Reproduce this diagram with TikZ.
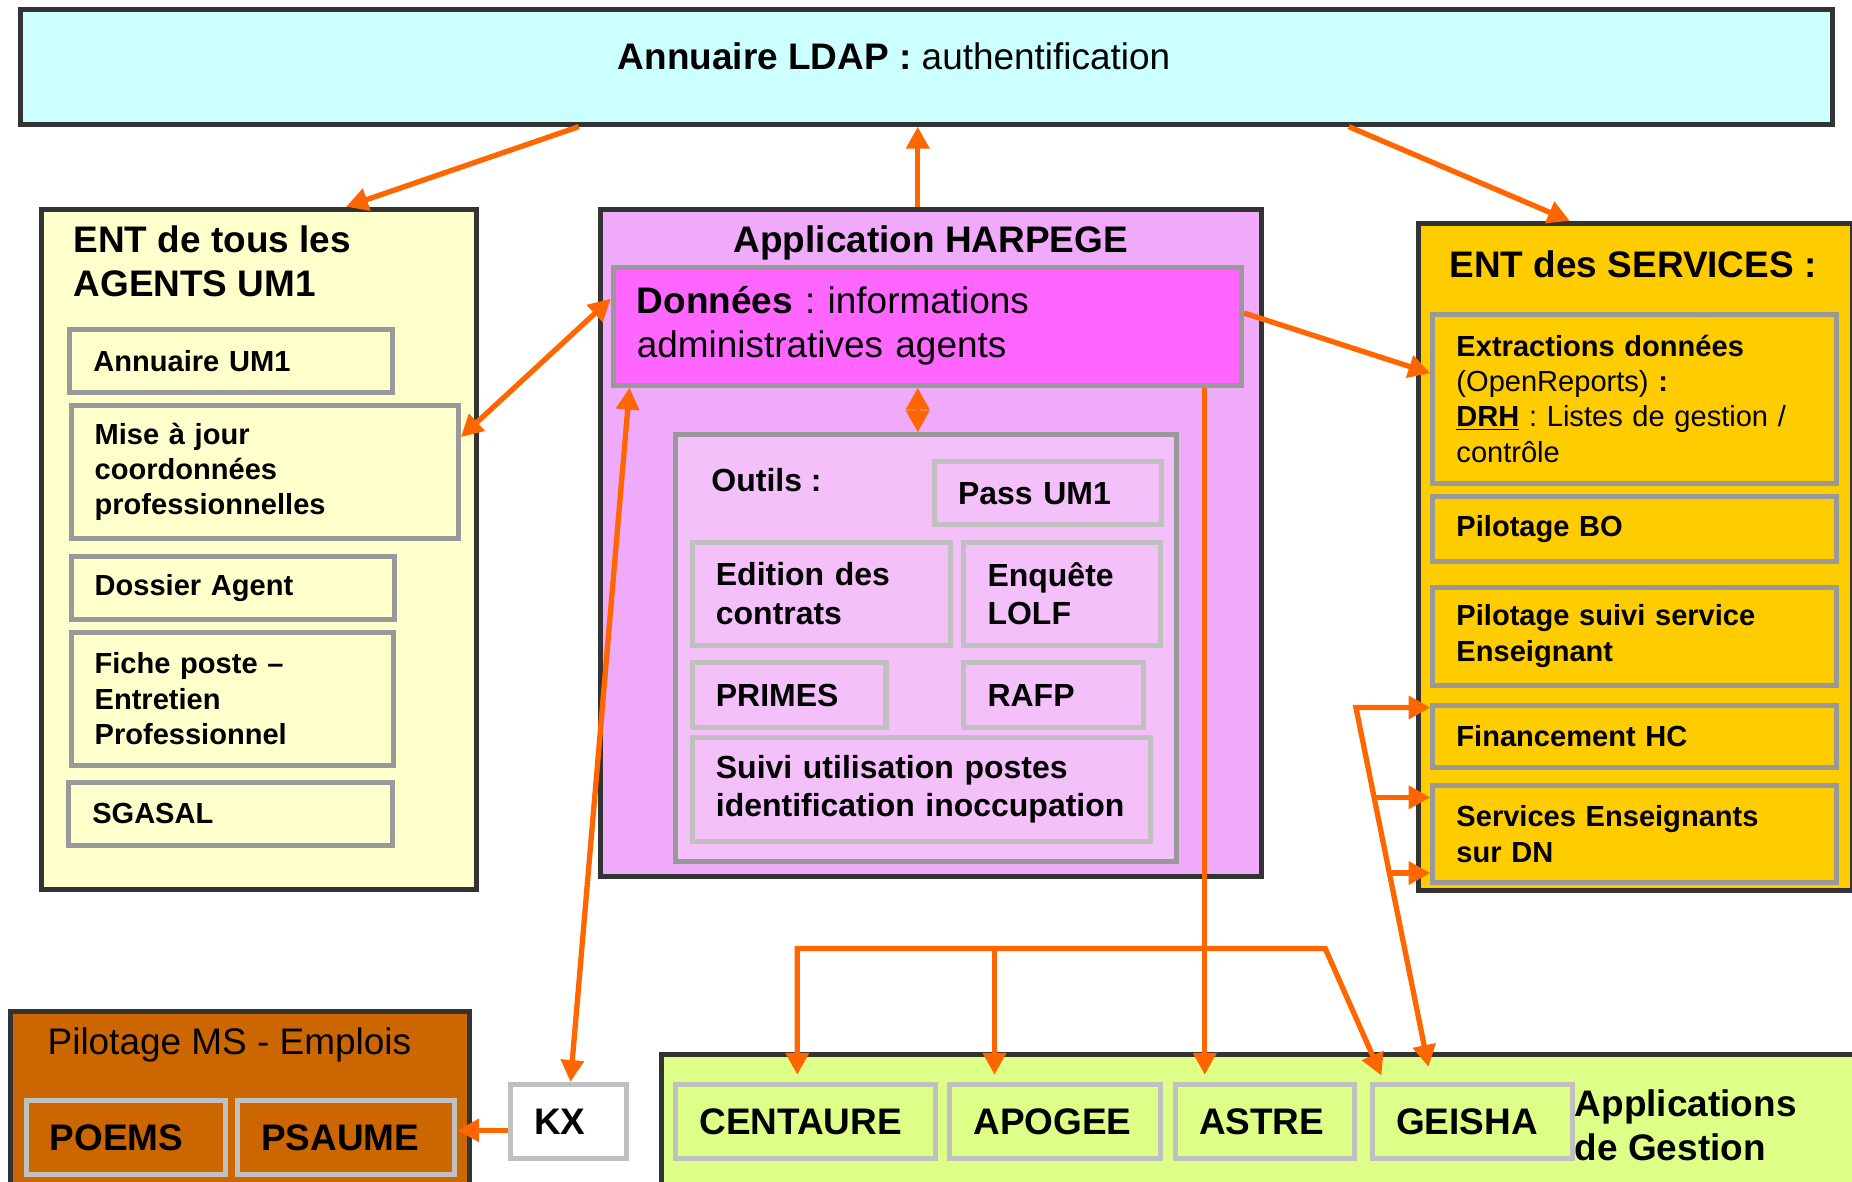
\documentclass[tikz,border=0pt]{standalone}
\usepackage{fontspec}
\setmainfont{Liberation Sans}
\usetikzlibrary{arrows.meta}
\frenchspacing

\definecolor{ldapcyan}{HTML}{CCFFFF}
\definecolor{agentyellow}{HTML}{FFFFCC}
\definecolor{harpegepink}{HTML}{F0AAFA}
\definecolor{donneesmagenta}{HTML}{FF66FF}
\definecolor{outilspink}{HTML}{F4C0FA}
\definecolor{servicegold}{HTML}{FFCC00}
\definecolor{msorange}{HTML}{CC6600}
\definecolor{appgreen}{HTML}{DDFF88}
\definecolor{floworange}{HTML}{FF6600}
\definecolor{darkframe}{HTML}{333333}
\definecolor{midframe}{HTML}{999999}
\definecolor{lightframe}{HTML}{C0C0C0}

\newcommand{\bigtxt}{\fontsize{17.8}{21.3}\selectfont}
\newcommand{\tooltxt}{\fontsize{15.4}{18.5}\selectfont}
\newcommand{\smalltxt}{\fontsize{14}{17}\selectfont}

\tikzset{
  wh/.style 2 args={minimum width=#1*0.2mm, minimum height=#2*0.2mm},
  frame/.style={rectangle, draw=darkframe, line width=0.85mm, inner sep=0pt, anchor=north west},
  sub/.style 2 args={rectangle, wh={#1}{#2}, text width=#1*0.2mm-8mm, inner xsep=4mm, inner ysep=0pt,
    align=left, anchor=north west, line width=0.85mm},
  entbox/.style 2 args={sub={#1}{#2}, draw=midframe, font=\smalltxt\bfseries},
  toolbox/.style 2 args={sub={#1}{#2}, draw=lightframe, fill=outilspink, font=\tooltxt\bfseries},
  appbox/.style 2 args={sub={#1}{#2}, draw=lightframe, font=\bigtxt\bfseries},
  heading/.style={inner sep=0pt, align=left, font=\bigtxt\bfseries},
  flow/.style={color=floworange, line width=0.9mm},
}

\begin{document}
\begin{tikzpicture}[x=0.2mm, y=-0.2mm, >={Triangle[length=3.7mm, width=3.8mm]}]

\useasboundingbox (0,0) rectangle (1568,1000);

% annuaire LDAP
\node (LDAP) [frame, fill=ldapcyan, wh={1534}{97}] at (15,6) {};
\node (LDAPT) [heading, font=\bigtxt, anchor=base] at (757,59) {\textbf{Annuaire LDAP :} authentification};

% ENT des agents
\node (ENTA) [frame, fill=agentyellow, wh={368}{576}] at (33,175) {};
\node (ENTAT) [heading, anchor=west] at (62,221) {ENT de tous les\\AGENTS UM1};
\node (ANN) [entbox={273}{53}, fill=agentyellow] at (57,277) {Annuaire UM1};
\node (MAJ) [entbox={328}{113}, fill=agentyellow] at (58,341) {Mise à jour\\coordonnées\\professionnelles};
\node (DOS) [entbox={274}{53}, fill=agentyellow] at (58,469) {Dossier Agent};
\node (FIC) [entbox={273}{113}, fill=agentyellow] at (58,533) {Fiche poste –\\Entretien\\Professionnel};
\node (SGA) [entbox={274}{54}, fill=agentyellow] at (56,660) {SGASAL};

% HARPEGE
\node (HARP) [frame, fill=harpegepink, wh={560}{565}] at (506,175) {};
\node (HARPT) [heading, anchor=base] at (788,214) {Application HARPEGE};
\node (DON) [sub={532}{100}, draw=midframe, fill=donneesmagenta, font=\bigtxt] at (517,224) {\textbf{Données} : informations\\administratives agents};
\node (OUT) [frame, draw=midframe, fill=outilspink, wh={424}{361}] at (570,366) {};
\node (OUTT) [heading, font=\tooltxt\bfseries, anchor=base west] at (602,416) {Outils :};
\node (PASS) [toolbox={192}{53}] at (789,389) {Pass UM1};
\node (EDI) [toolbox={219}{87}] at (584,457) {Edition des\\contrats};
\node (ENQ) [toolbox={166}{87}] at (814,457) {Enquête\\LOLF};
\node (PRI) [toolbox={164}{55}] at (584,559) {PRIMES};
\node (RAF) [toolbox={152}{55}] at (814,559) {RAFP};
\node (SUI) [toolbox={388}{88}] at (584,622) {Suivi utilisation postes\\identification inoccupation};

% ENT des services
\node (ENTS) [frame, fill=servicegold, wh={367}{565}] at (1199,187) {};
\node (ENTST) [heading, anchor=base west] at (1227,235) {ENT des SERVICES :};
\node (EXT) [entbox={342}{143}, fill=servicegold, font=\smalltxt] at (1211,264) {\textbf{Extractions données}\\(OpenReports) \textbf{:}\\\textbf{\underline{DRH}} : Listes de gestion /\\contrôle};
\node (PBO) [entbox={342}{55}, fill=servicegold] at (1211,418) {Pilotage BO};
\node (PSS) [entbox={342}{83}, fill=servicegold] at (1211,495) {Pilotage suivi service\\Enseignant};
\node (FIN) [entbox={342}{53}, fill=servicegold] at (1211,595) {Financement HC};
\node (SDN) [entbox={342}{82}, fill=servicegold] at (1211,663) {Services Enseignants\\sur DN};

% pilotage MS
\node (PMS) [frame, fill=msorange, wh={388}{150}] at (7,854) {};
\node (PMST) [heading, font=\bigtxt, anchor=base west] at (40,893) {Pilotage MS - Emplois};
\node (POE) [appbox={169}{62}, fill=msorange] at (20,930) {POEMS};
\node (PSA) [appbox={184}{62}, fill=msorange] at (199,930) {PSAUME};
\node (KX) [appbox={98}{63}, fill=white] at (430,916) {KX};

% applications de gestion
\node (APPS) [frame, fill=appgreen, wh={1040}{112}] at (558,891) {};
\node (APPST) [heading, anchor=west] at (1333,953) {Applications\\de Gestion};
\node (CEN) [appbox={220}{63}, fill=appgreen] at (570,916) {CENTAURE};
\node (APO) [appbox={178}{63}, fill=appgreen] at (802,916) {APOGEE};
\node (AST) [appbox={152}{63}, fill=appgreen] at (993,916) {ASTRE};
\node (GEI) [appbox={169}{63}, fill=appgreen] at (1160,916) {GEISHA};

\coordinate (BL) at (675,803);
\coordinate (BR) at (1122,803);
\coordinate (GK) at (1148,599);

%flux:
\path [flow]
(490,0 |- LDAP.south) edge [->] (293,0 |- ENTA.north)
(777,0 |- HARP.north) edge [->] (777,0 |- LDAP.south)
(1142,0 |- LDAP.south) edge [->] (1329,0 |- ENTS.north)
(DON.west |- 0,253) edge [<->] (MAJ.east |- 0,370)
(777,0 |- DON.south) edge [<->] (777,0 |- OUT.north)
(DON.east |- 0,265) edge [->] (EXT.west |- 0,316)
(533,0 |- DON.south) edge [<->] (483,0 |- KX.north)
(KX.west |- 0,957) edge [->] (PSA.east |- 0,957)
(1020,0 |- DON.south) edge [->, shorten >=1.2mm] (1020,0 |- AST.north)
(842,0 |- BL) edge [->, shorten >=1.2mm] (842,0 |- APO.north)
;
\draw [flow, <->, shorten <=1.2mm, shorten >=1.2mm] (1172,0 |- GEI.north) -- (BR) -- (BL) -- (BL |- CEN.north);
\draw [flow, <->, shorten <=2.6mm] (1212,0 |- GEI.north) -- coordinate[pos=0.76] (D1) coordinate[pos=0.558] (D2) (GK) -- (GK -| FIN.west);
\path [flow]
(D1) edge [->] (D1 -| SDN.west)
(D2) edge [->] (D2 -| SDN.west)
;

\end{tikzpicture}
\end{document}
